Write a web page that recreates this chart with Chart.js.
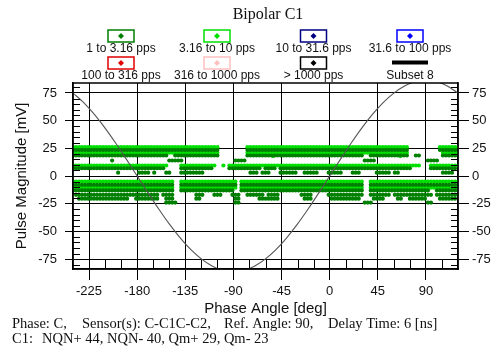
<!DOCTYPE html>
<html>
<head>
<meta charset="utf-8">
<script src="https://cdn.jsdelivr.net/npm/chart.js@4/dist/chart.umd.min.js"></script>
<style>
  html, body { margin: 0; padding: 0; background: #fff; }
  #wrap { position: relative; width: 495px; height: 351px; }
</style>
</head>
<body>
<div id="wrap"><canvas id="chartPd"></canvas></div>
<script>
// lebar bin fasa (360 / 128)
const binWidth = 2.8125;

const xTicks = [-225, -180, -135, -90, -45, 0, 45, 90];
const yTicks = [-75, -50, -25, 0, 25, 50, 75];

const seriesLabels = ['1 to 3.16 pps', '3.16 to 10 pps', '10 to 31.6 pps', '31.6 to 100 pps',
  '100 to 316 pps', '316 to 1000 pps', '> 1000 pps'];
const seriesColors = ['#008000', '#00e000', '#000080', '#0000ff', '#e00000', '#ffc0c0', '#000000'];
const lineLabel = 'Subset 8';

// baris magnitude untuk 1 to 3.16 pps, tiap baris punya rentang fasa [dari, sampai]
const darkMags = [23.5, 18.5, 14, 7, 3, -8, -13, -17, -20.5, -24];
const darkRuns = [
  [[-240, -105], [-76, 72], [103, 120]],
  [[-240, -152], [-143, -105], [-76, 31], [38, 72], [82, 84], [106, 120]],
  [[-203, -203], [-151, -140], [-87, -79], [33, 40], [92, 100]],
  [[-240, -156], [-140, -110], [-93, -66], [-60, -52], [-46, 76], [96, 118]],
  [[-197, -197], [-177, -170], [-163, -163], [-154, -149], [-140, -119], [-73, -68], [-62, -58],
   [-46, -32], [-23, -11], [0, 10], [21, 28], [45, 56], [61, 64], [106, 114]],
  [[-240, -146], [-140, -88], [-82, 31], [38, 94], [98, 120]],
  [[-240, -146], [-140, -90], [-82, 31], [38, 92], [100, 120]],
  [[-236, -193], [-188, -184], [-180, -161], [-157, -146], [-126, -119], [-109, -102], [-90, -84],
   [-76, -63], [-58, -48], [-26, -18], [0, 31], [38, 56], [61, 69], [72, 94], [100, 120]],
  [[-235, -189], [-180, -161], [-152, -146], [-126, -121], [-88, -84], [-65, -50], [-23, -18],
   [3, 28], [42, 50], [63, 66], [76, 90], [103, 118]],
  [[-152, -143], [-87, -85], [33, 38], [92, 96]],
];

// baris magnitude untuk 3.16 to 10 pps
const brightMags = [26, 21, 9.5, -5, -10.5];
const brightRuns = [
  [[-240, -105], [-76, 72], [103, 120]],
  [[-240, -105], [-76, 72], [106, 120]],
  [[-240, -152], [-140, -109], [-100, -100], [-95, -65], [-62, -51], [-48, 78], [80, 84], [94, 120]],
  [[-240, -146], [-140, -88], [-82, 31], [38, 94], [98, 120]],
  [[-240, -146], [-140, -88], [-82, 31], [38, 94], [98, 120]],
];
const brightExtraPhase = [-53, 66, -101];
const brightExtraMag = [18, 18, -11];

// kurva referensi (Subset 8), terpotong di batas sumbu
const refPhase = [-240, -230, -220, -210, -200, -190, -180, -170, -160, -150, -140, -130, -120,
  -110, -100, -90, -80, -70, -60, -50, -40, -30, -20, -10, 0, 10, 20, 30, 40, 50, 60, 70, 80, 90,
  100, 110, 120];
const refMag = [74.9, 66.3, 55.6, 43.3, 29.6, 15, 0, -15, -29.6, -43.3, -55.6, -66.3, -74.9,
  -81.3, -85.2, -86.5, -85.2, -81.3, -74.9, -66.3, -55.6, -43.3, -29.6, -15, 0, 15, 29.6, 43.3,
  55.6, 66.3, 74.9, 81.3, 85.2, 86.5, 85.2, 81.3, 74.9];

// ubah rentang fasa jadi titik per bin
function expandRows(mags, runs) {
  const pts = [];
  mags.forEach((mag, i) => {
    runs[i].forEach(([a, b]) => {
      for (let k = 0; k <= 128; k++) {
        const p = -240 + k * binWidth;
        if (p >= a - binWidth / 2 && p <= b + binWidth / 2) pts.push({ x: p, y: mag });
      }
    });
  });
  return pts;
}

const darkPoints = expandRows(darkMags, darkRuns);
const brightPoints = expandRows(brightMags, brightRuns);
brightExtraPhase.forEach((p, i) => brightPoints.push({ x: p, y: brightExtraMag[i] }));
const refPoints = refPhase.map((p, i) => ({ x: p, y: refMag[i] }));

const sansFont = '"Liberation Sans", Arial, sans-serif';
const serifFont = '"Liberation Serif", "Times New Roman", serif';

const datasets = seriesLabels.map((label, i) => ({
  label: label,
  data: i === 0 ? darkPoints : i === 1 ? brightPoints : [],
  backgroundColor: seriesColors[i],
  borderWidth: 0,
  pointRadius: 2.1,
  order: i === 0 ? 1 : 2,
}));
datasets.push({
  type: 'line',
  label: lineLabel,
  data: refPoints,
  borderColor: '#555555',
  borderWidth: 1.1,
  pointRadius: 0,
  tension: 0.3,
  fill: false,
  order: 0,
});

// Plugin untuk judul, legenda, tick minor, dan teks bawah
const decorPlugin = {
  id: 'decor',
  afterDraw(chart) {
    const ctx = chart.ctx;
    const ca = chart.chartArea;
    const xs = chart.scales.x;
    const ys = chart.scales.y;
    ctx.save();

    // bingkai
    ctx.strokeStyle = '#000';
    ctx.lineWidth = 1.5;
    ctx.strokeRect(ca.left, ca.top, ca.right - ca.left, ca.bottom - ca.top);

    // tick minor
    ctx.lineWidth = 1;
    ctx.beginPath();
    for (let v = -80; v <= 80; v += 5) {
      if (v % 25 === 0) continue;
      const py = Math.round(ys.getPixelForValue(v)) + 0.5;
      ctx.moveTo(ca.left, py); ctx.lineTo(ca.left + 7, py);
      ctx.moveTo(ca.right, py); ctx.lineTo(ca.right - 7, py);
    }
    for (let a = -225; a < 120; a += 15) {
      if ((a + 225) % 45 === 0) continue;
      const px = Math.round(xs.getPixelForValue(a)) + 0.5;
      ctx.moveTo(px, ca.bottom); ctx.lineTo(px, ca.bottom - 9);
    }
    ctx.stroke();

    // judul
    ctx.fillStyle = '#111';
    ctx.textAlign = 'center';
    ctx.textBaseline = 'middle';
    ctx.font = '16px ' + serifFont;
    ctx.fillText('Bipolar C1', 268, 15);

    // legenda
    const colX = [121, 217, 313.5, 410];
    const rowY = [30, 57];
    ctx.font = '12px ' + sansFont;
    seriesLabels.forEach((label, i) => {
      const cx = colX[i % 4];
      const top = rowY[Math.floor(i / 4)];
      ctx.strokeStyle = seriesColors[i];
      ctx.lineWidth = 1.5;
      ctx.strokeRect(cx - 13, top, 26, 12);
      ctx.fillStyle = seriesColors[i];
      ctx.beginPath();
      ctx.moveTo(cx, top + 3); ctx.lineTo(cx + 3, top + 6);
      ctx.lineTo(cx, top + 9); ctx.lineTo(cx - 3, top + 6);
      ctx.closePath();
      ctx.fill();
      ctx.fillStyle = '#111';
      ctx.fillText(label, cx, top + 19);
    });
    ctx.strokeStyle = '#000';
    ctx.lineWidth = 4;
    ctx.beginPath();
    ctx.moveTo(colX[3] - 18, 62.5); ctx.lineTo(colX[3] + 18, 62.5);
    ctx.stroke();
    ctx.fillStyle = '#111';
    ctx.fillText(lineLabel, colX[3], 76);

    // judul sumbu
    ctx.font = '15px ' + sansFont;
    ctx.fillText('Phase Angle [deg]', (ca.left + ca.right) / 2, 309);
    ctx.save();
    ctx.translate(22, (ca.top + ca.bottom) / 2);
    ctx.rotate(-Math.PI / 2);
    ctx.fillText('Pulse Magnitude [mV]', 0, 0);
    ctx.restore();

    // teks keterangan bawah
    ctx.font = '14.5px ' + serifFont;
    ctx.textAlign = 'left';
    ctx.fillText('Phase: C,', 12, 324);
    ctx.fillText('Sensor(s): C-C1C-C2,', 82, 324);
    ctx.fillText('Ref. Angle: 90,', 224, 324);
    ctx.fillText('Delay Time: 6 [ns]', 328, 324);
    ctx.fillText('C1:', 12, 339);
    ctx.fillText('NQN+ 44, NQN- 40, Qm+ 29, Qm- 23', 42, 339);
    ctx.restore();
  },
};

const tickFont = { family: sansFont, size: 13 };

const ctxPd = document.getElementById('chartPd').getContext('2d');
const chartPd = new Chart(ctxPd, {
  type: 'scatter',
  data: { datasets: datasets },
  options: {
    responsive: true,
    maintainAspectRatio: false,
    animation: false,
    layout: { padding: { top: 83, left: 0, right: 0, bottom: 0 } },
    plugins: {
      legend: { display: false },
      tooltip: { enabled: false },
    },
    scales: {
      x: {
        type: 'linear',
        min: -240,
        max: 120,
        afterBuildTicks: (s) => { s.ticks = xTicks.map((v) => ({ value: v })); },
        afterFit: (s) => { s.height = 82; },
        grid: { color: '#000', lineWidth: 1, tickLength: 11 },
        border: { color: '#000', width: 1.5 },
        ticks: { color: '#111', font: tickFont, padding: 4, maxRotation: 0, autoSkip: false },
      },
      y: {
        type: 'linear',
        position: 'left',
        min: -84,
        max: 84,
        afterBuildTicks: (s) => { s.ticks = yTicks.map((v) => ({ value: v })); },
        afterFit: (s) => { s.width = 73; },
        grid: { color: '#000', lineWidth: 1, tickLength: 8 },
        border: { color: '#000', width: 1.5 },
        ticks: { color: '#111', font: tickFont, padding: 8 },
      },
      y2: {
        type: 'linear',
        position: 'right',
        min: -84,
        max: 84,
        afterBuildTicks: (s) => { s.ticks = yTicks.map((v) => ({ value: v })); },
        afterFit: (s) => { s.width = 37; },
        grid: { color: '#000', lineWidth: 1, tickLength: 11, drawOnChartArea: false },
        border: { color: '#000', width: 1.5 },
        ticks: { color: '#111', font: tickFont, padding: 3 },
      },
    },
  },
  plugins: [decorPlugin],
});
</script>
</body>
</html>
